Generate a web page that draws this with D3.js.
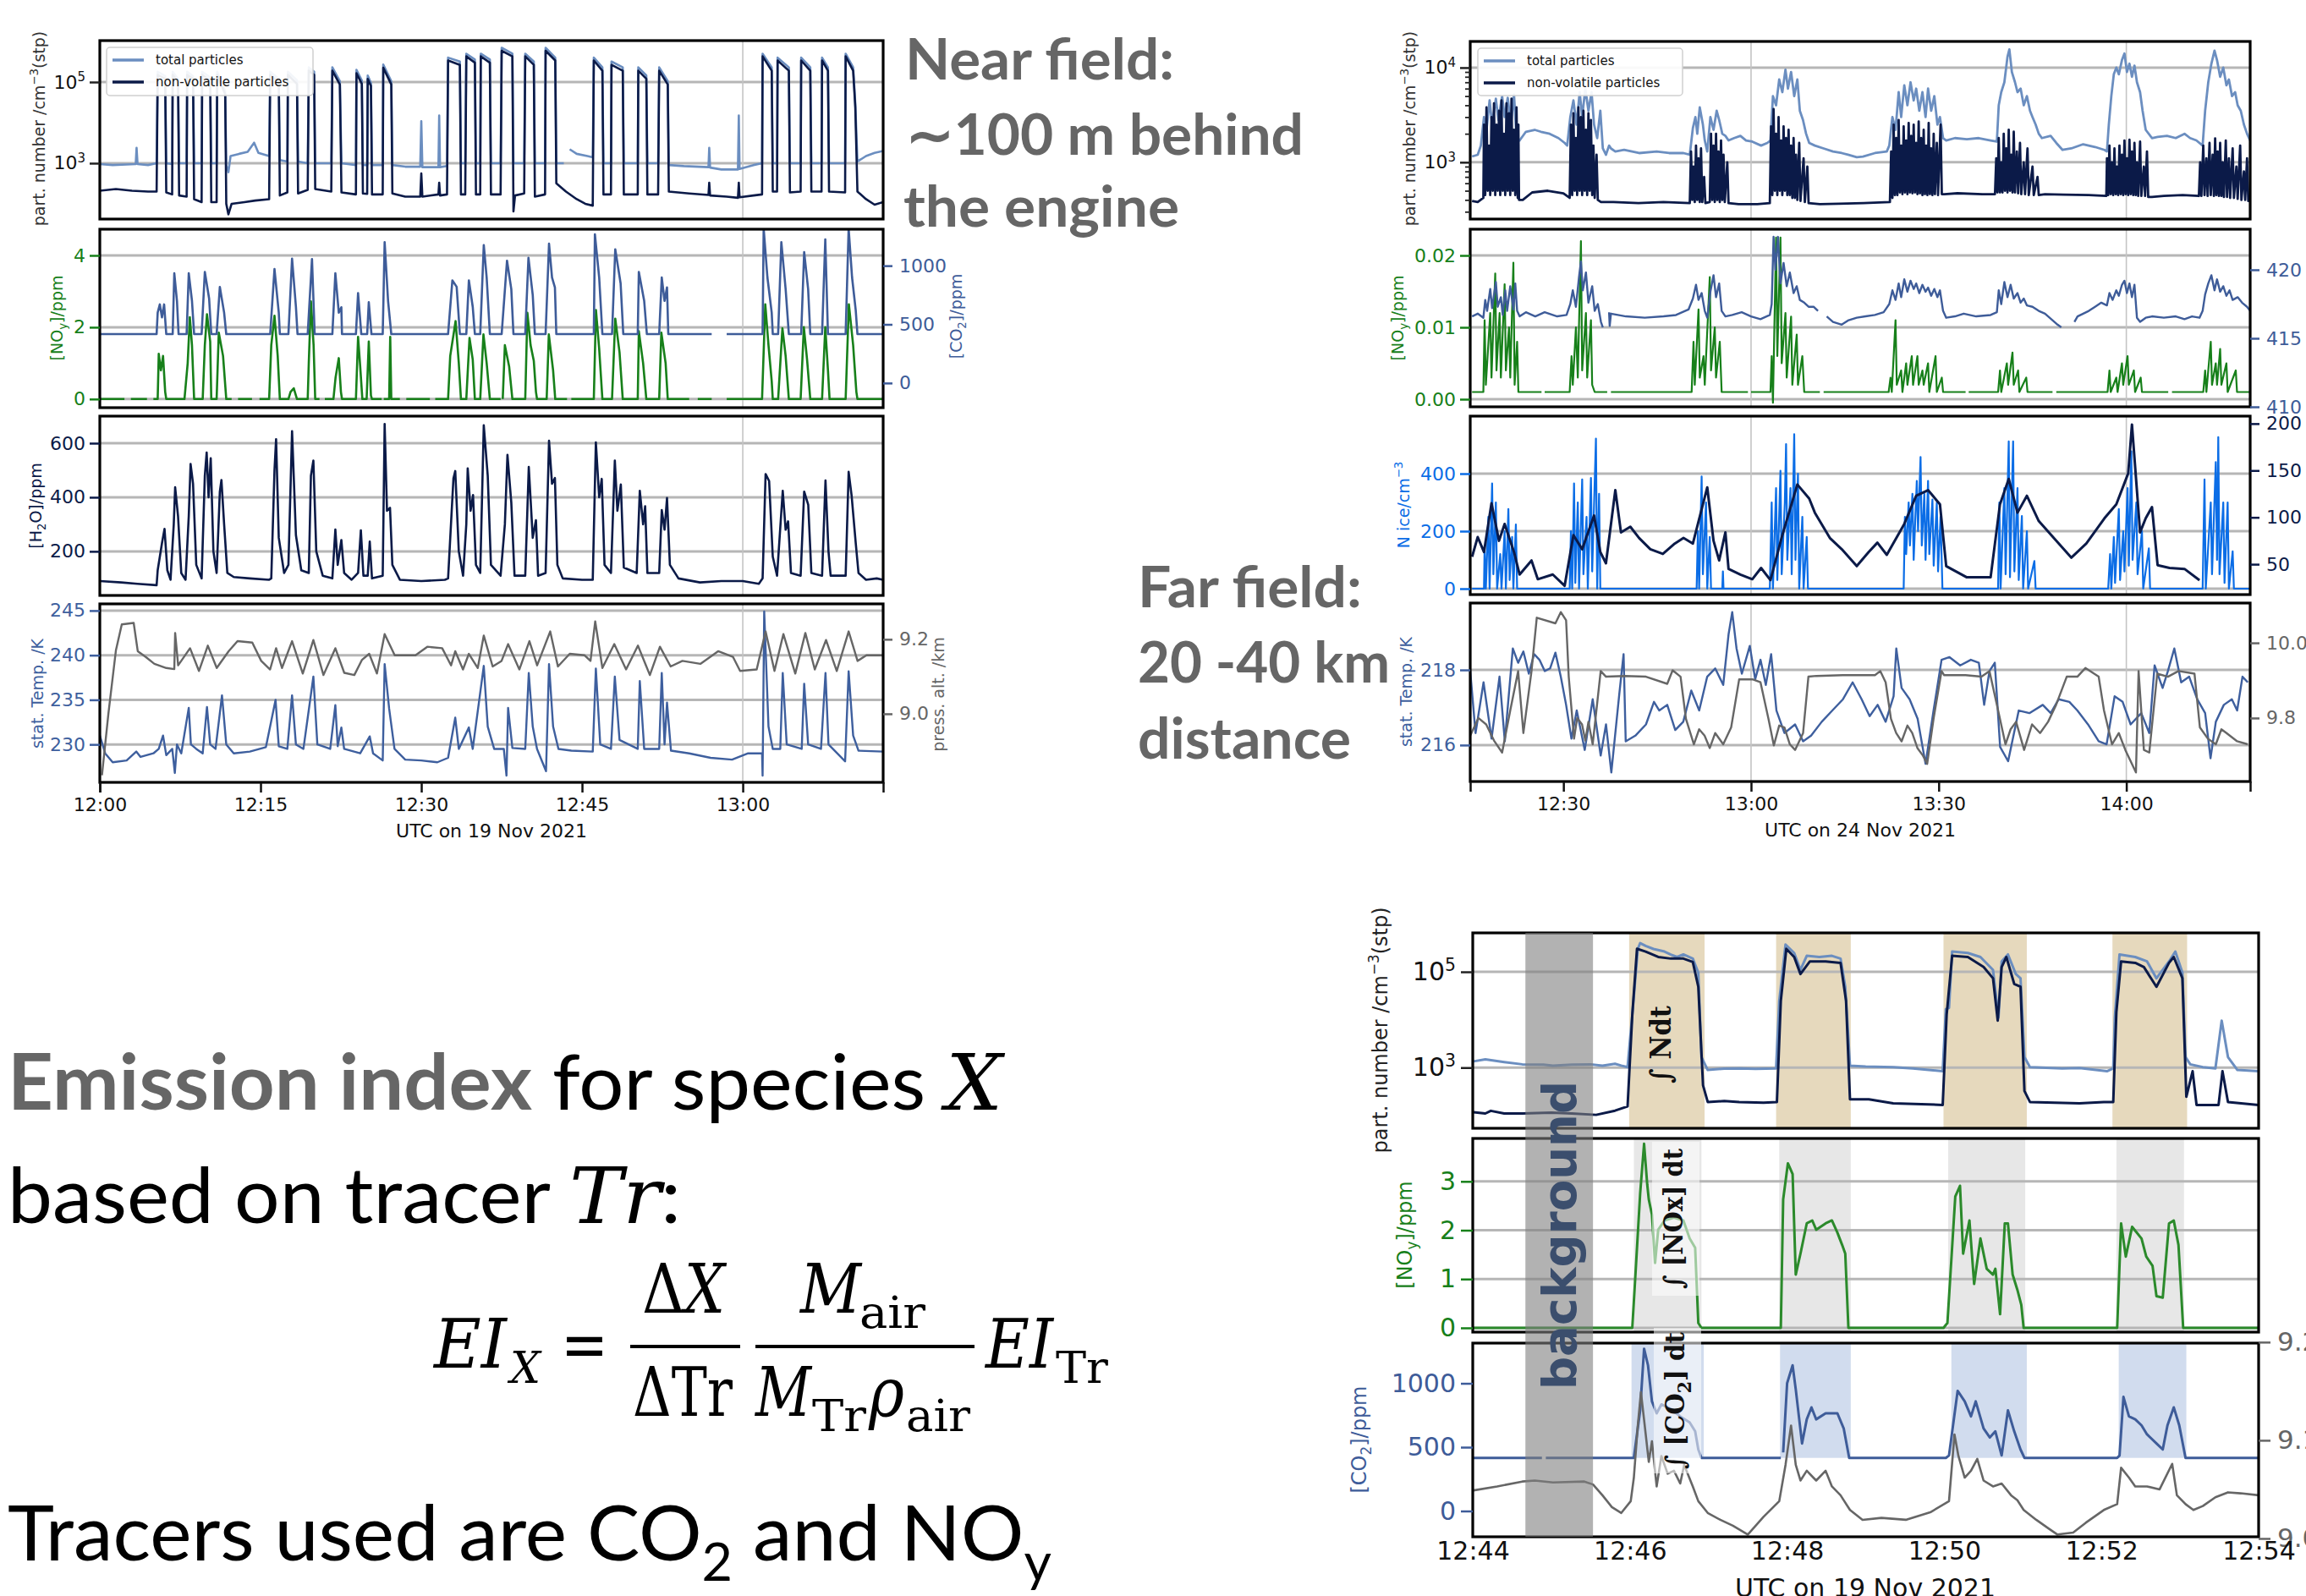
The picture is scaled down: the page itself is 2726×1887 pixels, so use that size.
<!DOCTYPE html>
<html>
<head>
<meta charset="utf-8">
<script src="https://cdn.jsdelivr.net/npm/d3@7"></script>
<style>
  body { margin: 0; background: #fff; }
  svg { display: block; }
</style>
</head>
<body>
<div id="chart"></div>
<script>
// ===== DATA =====
// overview charts: minutes after 12:00 UTC ; zoom chart: minutes after 12:44 UTC

// near field, 19 Nov 2021
const tlTotal = [[0,950],[1.2,900],[2.5,930],[3.35,950],[3.43,2400],[3.52,950],[4.5,900],[5.3,1000],
  [5.4,180000],[6.1,140000],[6.2,1000],[6.75,950],[6.8,180000],[7.3,120000],[7.4,1000],[8.1,1000],
  [8.15,180000],[8.7,140000],[8.8,1000],[9.5,1000],[9.55,180000],[10.3,130000],[10.4,1000],[10.9,1000],
  [10.95,180000],[11.7,60000],[11.8,900],[12.0,600],[12.2,1500],[13.0,1700],[13.8,1900],[14.4,3200],[14.8,1800],[15.8,1500],
  [15.9,180000],[16.7,120000],[16.8,1200],[17.5,1100],[17.55,180000],[18.4,110000],[18.5,1100],[19.4,1000],
  [19.5,230000],[20.0,180000],[20.1,1000],[21.6,1000],[21.7,230000],[22.4,105000],[22.55,1000],[23.9,900],
  [23.95,200000],[24.45,110000],[24.55,900],[24.95,900],[25.0,145000],[25.3,95000],[25.4,900],[26.4,900],
  [26.45,270000],[27.2,105000],[27.3,900],[28.5,820],[29.9,820],[30.0,10800],[30.1,800],[31.6,800],[31.67,15000],[31.75,800],[32.4,850],
  [32.5,400000],[33.6,320000],[33.7,1000],[34.1,1000],[34.2,500000],[35.0,360000],[35.1,1000],[35.5,1000],
  [35.55,500000],[36.4,360000],[36.5,1000],[37.4,1000],[37.5,700000],[38.5,500000],[38.6,1000],[39.6,1000],
  [39.7,500000],[40.5,320000],[40.6,1000],[41.55,1000],[41.6,700000],[42.5,400000],[42.6,1000],[43.3,1000],[43.4,null],
  [43.85,2200],[44.5,1700],[45.5,1500],[46.0,1400],[46.1,400000],[46.9,230000],[47.0,1000],[47.7,1000],
  [47.75,320000],[48.8,230000],[48.9,1000],[50.2,1000],[50.25,230000],[51.0,145000],[51.1,1000],[52.1,1000],
  [52.2,230000],[53.0,105000],[53.1,900],[54.5,850],[56.8,800],[56.87,2400],[56.95,780],[58,700],[59.55,700],[59.63,15000],[59.7,720],[61.0,900],[61.8,1000],
  [61.85,500000],[62.7,230000],[62.8,1000],[63.2,1000],[63.25,400000],[64.3,230000],[64.4,1000],[65.4,1000],
  [65.45,400000],[66.3,230000],[66.4,1000],[67.35,1000],[67.4,400000],[67.95,230000],[68.05,1000],[69.55,1000],
  [69.6,500000],[70.3,230000],[70.5,30000],[70.7,1100],[71.5,1500],[72.3,1800],[73.1,2000]];

const tlNonvol = [[0,210],[1.5,230],[3.0,210],[4.5,200],[5.3,200],
  [5.4,150000],[6.1,120000],[6.2,190],[6.75,170],[6.8,150000],[7.3,100000],[7.4,160],[8.1,150],
  [8.15,150000],[8.7,120000],[8.8,130],[9.5,110],[9.55,150000],[10.3,110000],[10.4,110],[10.9,110],
  [10.95,150000],[11.7,50000],[11.8,100],[12.0,55],[12.3,100],[13.5,110],[14.5,120],[15.8,130],
  [15.9,150000],[16.7,100000],[16.8,160],[17.5,190],[17.55,150000],[18.4,90000],[18.5,180],[19.4,220],
  [19.5,190000],[20.0,150000],[20.1,230],[21.6,200],[21.7,190000],[22.4,87000],[22.55,190],[23.9,170],
  [23.95,165000],[24.45,90000],[24.55,180],[24.95,175],[25.0,120000],[25.3,80000],[25.4,170],[26.4,170],
  [26.45,225000],[27.2,87000],[27.3,180],[28.5,150],[29.9,150],[30.0,560],[30.1,150],[31.6,170],[31.67,330],[31.75,160],[32.4,170],
  [32.5,340000],[33.6,265000],[33.7,170],[34.1,170],[34.2,430000],[35.0,300000],[35.1,170],[35.5,170],
  [35.55,430000],[36.4,300000],[36.5,170],[37.4,170],[37.5,590000],[38.5,430000],[38.6,65],[38.75,160],[39.6,180],
  [39.7,430000],[40.5,265000],[40.6,150],[41.55,170],[41.6,590000],[42.5,340000],[42.6,320],[43.5,200],[44.5,130],[45.3,100],[46.0,90],
  [46.1,340000],[46.9,190000],[47.0,170],[47.7,170],[47.75,265000],[48.8,190000],[48.9,170],[50.2,170],
  [50.25,190000],[51.0,120000],[51.1,170],[52.1,170],[52.2,190000],[53.0,87000],[53.1,200],[55.0,180],
  [56.8,165],[56.87,330],[56.95,160],[58.5,150],[59.55,140],[59.63,330],[59.7,145],[61.0,160],[61.8,170],
  [61.85,430000],[62.7,190000],[62.8,200],[63.2,200],[63.25,340000],[64.3,190000],[64.4,190],[65.4,200],
  [65.45,340000],[66.3,190000],[66.4,200],[67.35,200],[67.4,340000],[67.95,190000],[68.05,200],[69.55,190],
  [69.6,430000],[70.3,190000],[70.5,24000],[70.7,200],[71.5,130],[72.3,95],[73.1,110]];

const tlNoy = [[0,0],[2.3,0],[2.35,null],[2.9,0],[4.4,0],[4.45,null],[5.0,0],[5.4,0],[5.5,1.26],[5.7,0.8],[5.9,1.2],[6.1,0.2],[6.2,0],
  [7.9,0],[8.2,1.0],[8.4,2.28],[8.6,1.5],[8.8,0],[9.6,0],[9.8,1.5],[10.0,2.36],[10.3,1.6],[10.4,0],[10.9,0],[11.1,1.85],[11.5,1.2],[11.8,0],
  [12.3,0],[12.35,null],[12.9,0],[14.2,0],[14.25,null],[14.9,0],[15.8,0],[16.0,1.5],[16.3,2.32],[16.6,1.2],[16.8,0],
  [17.6,0],[17.8,0.2],[18.1,0.3],[18.4,0],[19.4,0],[19.5,1.0],[19.7,2.72],[19.95,1.5],[20.1,0],[20.5,0],[20.55,null],[21.0,0],
  [21.8,0],[22.0,0.6],[22.3,1.14],[22.5,0.2],[22.6,0],[23.9,0],[24.1,1.73],[24.3,0.9],[24.5,0],[24.9,0],[25.1,1.6],[25.3,0.1],[25.4,0],
  [26.3,0],[26.35,null],[26.5,0],[27.0,0],[27.1,1.73],[27.2,0],[28.0,0],[28.05,null],[28.6,0],[30.8,0],[30.85,null],[31.3,0],
  [32.5,0],[32.7,1.2],[33.2,2.17],[33.5,1.0],[33.7,0],[34.2,0],[34.5,1.7],[34.8,1.1],[35.0,0],[35.5,0],[35.8,1.8],[36.1,1.0],[36.4,0],
  [37.4,0],[37.45,null],[37.6,0],[37.8,1.5],[38.2,0.9],[38.5,0],[39.7,0],[39.9,2.4],[40.2,1.5],[40.5,1.06],[40.7,0.2],[40.8,0],
  [41.7,0],[41.9,1.8],[42.3,0.8],[42.5,0],[43.6,0],[43.65,null],[44.0,0],[46.1,0],[46.3,2.48],[46.6,1.4],[46.9,0],
  [47.8,0],[48.1,2.24],[48.5,1.3],[48.8,0],[50.2,0],[50.3,1.89],[50.7,1.0],[51.0,0],[52.2,0],[52.4,1.85],[52.8,1.0],[53.0,0],
  [55.0,0],[55.05,null],[55.8,0],[57.1,0],[57.15,null],[58.5,0],[61.8,0],[62.1,2.64],[62.4,1.5],[62.7,0.5],[62.8,0],
  [63.3,0],[63.7,1.97],[64.0,1.2],[64.3,0],[65.4,0],[65.7,2.0],[66.0,1.1],[66.3,0],[67.4,0],[67.7,2.0],[67.95,0.8],[68.1,0],
  [69.6,0],[69.9,2.64],[70.3,1.5],[70.6,0.2],[70.7,0],[73.1,0]];

const tlCo2 = [[0,417],[5.3,417],[5.4,600],[5.6,670],[5.8,560],[6.0,670],[6.2,417],[6.8,417],[6.95,935],[7.2,700],[7.35,417],
  [8.1,417],[8.3,935],[8.6,700],[8.8,417],[9.5,417],[9.8,947],[10.2,720],[10.4,417],[10.9,417],[11.2,819],[11.6,600],[11.8,417],
  [15.9,417],[16.3,971],[16.7,600],[16.8,417],[17.6,417],[17.94,1060],[18.3,650],[18.45,417],[19.4,417],[19.8,1056],[20.05,417],
  [21.7,417],[21.98,935],[22.3,600],[22.54,646],[22.6,417],[23.9,417],[24.1,766],[24.4,417],[24.95,417],[25.1,689],[25.35,417],
  [26.4,417],[26.58,1200],[26.9,700],[27.2,417],[32.5,417],[32.9,875],[33.3,820],[33.6,417],[34.2,417],[34.44,875],[34.8,650],[35.0,417],
  [35.5,417],[35.83,1176],[36.1,900],[36.4,417],[37.5,417],[38.0,1043],[38.4,800],[38.6,417],[39.7,417],[40.0,1068],[40.4,750],[40.6,417],
  [41.6,417],[41.92,1188],[42.2,900],[42.47,815],[42.6,417],[46.1,417],[46.2,1268],[46.6,900],[46.9,417],[47.8,417],[48.1,1140],[48.6,850],[48.85,417],
  [50.2,417],[50.3,947],[50.8,700],[51.05,417],[52.2,417],[52.44,899],[52.7,700],[52.93,815],[53.05,417],[57.1,417],[57.15,null],[58.5,417],
  [61.85,417],[61.95,1316],[62.3,900],[62.7,600],[62.8,417],[63.3,417],[63.6,1200],[64.0,800],[64.3,417],[65.45,417],[65.73,1116],[66.1,800],[66.3,417],
  [67.4,417],[67.7,1224],[67.95,417],[69.6,417],[69.88,1316],[70.2,900],[70.54,622],[70.7,417],[73.1,417]];

const tlH2o = [[0,90],[2,85],[3.5,80],[5.3,75],[5.4,130],[5.8,230],[6.04,283],[6.3,130],[6.6,95],[6.9,300],[7.03,437],[7.3,330],[7.6,120],
  [8.0,95],[8.3,330],[8.47,523],[8.7,450],[9.0,150],[9.5,100],[9.8,480],[9.97,565],[10.15,400],[10.35,544],[10.6,200],[10.9,120],
  [11.2,420],[11.35,464],[11.6,300],[11.9,120],[12.5,105],[14.0,100],[15.8,95],[16.0,100],[16.3,500],[16.45,615],[16.7,250],[17.2,120],
  [17.6,150],[17.94,644],[18.3,260],[18.8,130],[19.5,120],[19.7,480],[19.93,536],[20.2,200],[20.8,110],[21.7,100],[21.98,281],[22.2,150],
  [22.54,242],[22.8,120],[23.5,95],[24.1,120],[24.36,278],[24.6,110],[25.0,110],[25.19,236],[25.4,100],[26.4,110],[26.58,671],[26.8,350],
  [27.08,361],[27.3,150],[28.0,95],[30,90],[32.2,95],[32.5,100],[33.0,470],[33.17,497],[33.5,200],[33.9,110],[34.2,300],[34.33,507],
  [34.6,350],[34.83,408],[35.1,150],[35.5,120],[35.83,666],[36.2,480],[36.5,150],[37.4,110],[37.8,300],[38.04,557],[38.4,380],[38.7,110],
  [39.7,110],[40.03,512],[40.4,250],[40.7,315],[40.9,110],[41.6,120],[41.92,609],[42.2,450],[42.47,471],[42.7,150],[43.2,100],[45,95],
  [46.0,95],[46.29,603],[46.6,400],[46.84,468],[47.1,150],[47.7,120],[48.06,536],[48.3,350],[48.62,447],[48.9,140],[50.1,120],[50.39,424],
  [50.7,300],[50.89,367],[51.1,120],[52.2,120],[52.44,353],[52.7,280],[52.93,397],[53.2,150],[54,100],[56,85],[58,90],[60,90],[61.5,80],
  [61.85,100],[62.13,486],[62.46,460],[62.8,180],[63.2,110],[63.73,424],[64.0,280],[64.23,311],[64.5,120],[65.4,110],[65.73,421],
  [66.11,372],[66.4,120],[67.4,110],[67.72,462],[68.0,200],[68.2,110],[69.6,110],[69.88,494],[70.16,405],[70.54,231],[70.8,120],
  [71.5,95],[72.5,100],[73.1,95]];

const tlTemp = [[0,231],[0.5,229],[1.2,228],[2.5,228.2],[3.4,229.2],[3.8,228.6],[5.0,229],[5.5,229.5],[5.9,231],[6.2,228.8],[6.76,229.5],
  [7.0,226.8],[7.2,230],[7.6,229],[8.3,234.1],[8.5,230],[9.0,229.5],[9.6,229],[10.0,234.2],[10.3,230],[10.8,229.5],[11.4,235.5],[11.8,230],
  [12.5,229],[14.0,229.2],[15.5,229.7],[16.4,235.0],[16.7,229.8],[17.5,229.5],[17.94,235.5],[18.3,230],[19.0,229.5],[19.93,237.6],[20.3,230],
  [21.5,229.5],[21.98,234.4],[22.2,229.8],[22.54,231.9],[22.8,229.5],[24.3,229],[25.19,230.9],[25.5,229],[26.4,228.2],[26.58,239.0],[27.0,234],
  [27.5,229.5],[28.5,228.3],[30,228.2],[31.5,228],[32.5,228.5],[33.17,233.0],[33.5,229.5],[34.44,231.9],[34.8,229.5],[35.83,238.8],[36.2,232],
  [36.8,229.5],[37.7,229.5],[37.95,226.5],[38.1,234.1],[38.5,229.6],[39.7,229.5],[40.03,238.0],[40.4,232],[40.8,229.5],[41.64,227.0],
  [41.92,239.0],[42.3,232],[42.8,229.5],[44,229.3],[46,229.2],[46.29,238.5],[46.7,230],[47.7,229.5],[48.06,237.6],[48.5,230.5],[50.2,229.5],
  [50.39,237.1],[50.8,229.5],[52.2,229.5],[52.44,238.0],[52.7,230],[52.93,234.7],[53.3,229.3],[55,229],[57,228.5],[59,228.3],[60.5,229],
  [61.8,229],[61.85,226.5],[62.0,244.9],[62.4,232],[62.8,229.5],[63.5,229.5],[63.73,238.0],[64.1,230],[65.5,229.5],[65.73,236.8],[66.1,230],
  [67.3,229.5],[67.72,238.0],[68.0,230],[69.55,228.1],[69.88,238.2],[70.3,231],[70.8,229.3],[73.1,229.2]];

const tlAlt = [[0.2,8.835],[0.8,9.0],[1.5,9.17],[2.05,9.24],[3.16,9.244],[3.54,9.168],[4.26,9.153],[5.09,9.134],[6.2,9.123],[6.95,9.12],
  [7.03,9.217],[7.31,9.13],[8.42,9.176],[9.25,9.115],[10.08,9.183],[10.91,9.123],[12.02,9.168],[12.85,9.195],[14.23,9.191],[15.06,9.142],
  [15.89,9.119],[16.45,9.176],[17.0,9.123],[17.94,9.195],[18.94,9.108],[19.93,9.198],[20.87,9.104],[21.98,9.176],[22.81,9.11],[23.75,9.104],
  [24.47,9.145],[25.14,9.161],[25.86,9.108],[26.58,9.214],[27.52,9.157],[29.46,9.157],[30.56,9.18],[31.95,9.176],[32.78,9.13],[33.17,9.168],
  [33.89,9.119],[34.44,9.161],[35.27,9.123],[35.83,9.21],[36.66,9.127],[37.49,9.142],[38.1,9.187],[39.15,9.119],[40.09,9.195],[40.81,9.13],
  [42.03,9.221],[42.75,9.127],[43.85,9.161],[45.24,9.157],[45.79,9.142],[46.23,9.248],[46.9,9.123],[48.01,9.187],[49.11,9.119],[50.22,9.183],
  [51.33,9.104],[52.27,9.18],[53.27,9.127],[54.37,9.142],[56.04,9.134],[57.7,9.168],[59.08,9.153],[59.75,9.115],[61.3,9.119],[62.13,9.221],
  [62.96,9.115],[63.79,9.214],[64.9,9.108],[65.84,9.217],[66.72,9.119],[67.77,9.198],[68.77,9.115],[69.88,9.221],[70.71,9.142],[71.54,9.157],[73.09,9.157]];

// far field, 24 Nov 2021
const trTotal = [[15.4,1150],[16.3,1200],[16.8,1500],[17.3,3000],[17.7,2200],[18.2,4500],[18.6,2500],[19.2,4700],[19.6,2800],[20.2,5000],
  [20.6,3000],[21.1,4800],[21.6,2500],[22.1,5200],[22.5,1800],[23.0,1700],[24.0,2100],[25.4,2200],[26.4,2100],[27.8,2000],[29.2,1800],
  [30.2,1600],[30.6,1500],[31.1,3000],[31.6,4500],[32.1,2500],[32.6,5500],[33.0,3000],[33.5,6000],[34.0,3500],[34.5,5500],[34.9,2500],
  [35.4,1800],[35.9,3500],[36.3,1400],[36.8,1200],[37.3,1500],[37.6,1400],[38.3,1300],[39.7,1350],[42.1,1250],[44.9,1300],[46.9,1250],
  [49.2,1250],[50.2,1200],[50.7,2300],[51.1,3000],[51.4,2000],[51.8,3800],[52.3,2500],[52.6,1700],[53.0,1300],[53.5,3000],[54.0,2200],
  [54.5,3500],[54.9,2800],[55.4,2000],[55.9,1900],[56.4,1700],[57.3,1800],[58.3,1900],[59.2,1700],[60.2,1650],[61.6,1500],[62.6,1600],
  [63.1,1700],[63.5,5000],[64.0,4000],[64.5,7500],[65.0,5500],[65.5,9500],[65.9,6000],[66.4,9000],[66.9,5000],[67.4,7500],[67.8,3500],
  [68.3,2800],[68.8,2000],[69.3,1600],[70.2,1500],[71.6,1400],[73.1,1300],[74.5,1250],[75.5,1200],[76.9,1130],[77.9,1150],[79.8,1250],
  [81.7,1300],[82.1,1500],[82.6,3000],[83.1,2200],[83.6,5500],[84.0,3000],[84.5,6500],[85.0,4000],[85.5,7000],[86.0,4500],[86.4,6000],
  [86.9,3500],[87.4,5500],[87.9,3000],[88.3,6000],[88.8,3500],[89.3,5000],[89.8,2500],[90.2,3000],[90.7,1800],[91.2,1700],[92.6,1800],
  [94.5,1750],[96.4,1800],[98.3,1700],[99.3,1650],[99.6,4000],[100.0,5500],[100.5,7000],[101.0,13000],[101.3,15600],[101.7,9000],
  [102.2,7000],[102.6,5500],[103.1,6000],[103.6,4000],[104.1,5000],[104.6,3500],[105.0,3000],[105.5,2500],[106.0,2000],[106.5,1800],
  [107.9,1900],[108.8,1600],[109.8,1350],[111.2,1400],[113.1,1550],[115.0,1450],[116.5,1350],[116.9,1300],[117.2,2500],[117.6,5000],
  [118.0,8500],[118.4,10000],[118.8,8500],[119.3,12000],[119.7,14100],[120.1,9000],[120.5,11000],[120.9,8000],[121.3,10500],[121.7,7000],
  [122.2,5500],[122.6,3500],[123.1,2200],[124.1,1800],[125.0,1850],[126.5,1900],[127.9,1800],[129.3,2000],[130.2,1800],[131.2,1700],
  [132.2,1500],[132.6,3500],[133.1,7000],[133.6,11000],[134.1,15100],[134.5,12000],[135.0,8000],[135.5,10000],[136.0,6500],[136.4,7500],
  [136.9,5000],[137.4,5500],[137.8,4000],[138.3,3500],[138.8,2500],[139.3,2000],[139.8,1700]];

const trNonvol = [[15.4,390],[16.3,380],[17.2,420],
  [17.3,2500],[17.5,450],[17.7,3800],[17.9,500],[18.1,1500],[18.3,450],[18.5,3000],[18.7,500],[18.9,4200],[19.1,450],[19.3,2500],
  [19.5,500],[19.7,3500],[19.9,450],[20.1,4500],[20.3,500],[20.5,2000],[20.7,450],[20.9,4200],[21.1,500],[21.3,3300],[21.5,450],
  [21.7,4700],[21.9,500],[22.1,2200],[22.3,450],[22.5,3800],[22.7,420],[22.8,2500],[22.9,400],
  [23.5,400],[25.0,480],[27.5,500],[30.0,470],[31.0,420],
  [31.2,2500],[31.4,450],[31.6,3300],[31.8,500],[32.0,1800],[32.2,450],[32.4,3800],[32.6,500],[32.8,3000],[33.0,450],[33.2,3500],
  [33.4,500],[33.6,2200],[33.8,450],[34.0,3300],[34.2,500],[34.4,2800],[34.6,450],[34.8,1500],[35.0,420],[35.3,1200],[35.5,400],[36.0,380],
  [38,380],[42,370],[46,380],[50.2,370],
  [50.4,1300],[50.6,400],[50.8,900],[51.0,380],[51.2,1500],[51.4,400],[51.6,1100],[51.8,380],[52.0,1400],[52.2,380],[52.5,700],[52.7,370],
  [53.4,380],[53.6,2000],[53.8,400],[54.0,1500],[54.2,380],[54.4,2000],[54.6,400],[54.8,1300],[55.0,380],[55.2,1700],[55.4,400],
  [55.6,1200],[55.8,380],[56.2,1000],[56.4,370],
  [58,360],[61,360],[63.0,370],
  [63.2,2400],[63.4,450],[63.6,3650],[63.8,500],[64.0,2000],[64.2,450],[64.4,3000],[64.6,500],[64.8,1700],[65.0,450],[65.2,2400],
  [65.4,500],[65.6,1800],[65.8,450],[66.0,2200],[66.2,450],[66.4,1500],[66.6,420],[66.8,1800],[67.0,420],[67.2,1200],[67.4,400],
  [67.7,1600],[67.9,390],[68.4,1100],[68.6,380],[69.0,900],[69.2,370],
  [71,360],[74,365],[78,370],[82.2,380],
  [82.4,1300],[82.6,420],[82.8,2500],[83.0,450],[83.2,1800],[83.4,450],[83.6,2800],[83.8,480],[84.0,1500],[84.2,460],[84.4,2400],
  [84.6,480],[84.8,1700],[85.0,460],[85.2,2600],[85.4,480],[85.6,1900],[85.8,470],[86.0,2500],[86.2,480],[86.4,1600],[86.6,460],
  [86.8,2700],[87.0,470],[87.2,1800],[87.4,450],[87.6,2200],[87.8,460],[88.0,1500],[88.2,450],[88.4,2600],[88.6,460],[88.8,1400],
  [89.0,450],[89.2,2000],[89.4,460],[89.7,1600],[89.9,450],[90.3,2500],[90.5,460],[90.9,460],
  [93,470],[97,460],[99.0,460],
  [99.2,1100],[99.4,480],[99.6,1800],[99.8,480],[100.0,1000],[100.2,480],[100.4,2000],[100.6,500],[100.8,1400],[101.0,480],[101.2,2200],
  [101.4,500],[101.6,1200],[101.8,480],[102.0,2100],[102.2,480],[102.5,1300],[102.7,470],[103.0,1600],[103.2,460],[103.6,1000],
  [103.8,460],[104.2,1400],[104.4,450],[105.0,900],[105.2,450],[105.8,700],[106.0,450],[107.0,460],
  [110,455],[114,450],[116.8,440],
  [116.9,1100],[117.1,450],[117.3,1500],[117.5,460],[117.7,1000],[117.9,450],[118.1,1400],[118.3,460],[118.5,900],[118.7,450],
  [118.9,1500],[119.1,460],[119.3,1200],[119.5,450],[119.7,1700],[119.9,460],[120.1,1100],[120.3,450],[120.5,1730],[120.7,460],
  [120.9,1300],[121.1,450],[121.3,1600],[121.5,450],[121.7,1000],[121.9,440],[122.2,1650],[122.4,440],[122.8,900],[123.0,440],
  [123.3,1300],[123.5,430],[124.1,430],
  [126,440],[129,450],[131.6,440],
  [131.8,1000],[132.0,440],[132.3,1500],[132.5,450],[132.8,1100],[133.0,440],[133.3,1600],[133.5,450],[133.8,1200],[134.0,440],
  [134.2,1790],[134.4,450],[134.6,1300],[134.8,440],[135.0,1600],[135.2,440],[135.4,1000],[135.6,430],[135.9,1700],[136.1,430],
  [136.4,1100],[136.6,420],[137.0,1400],[137.2,420],[137.6,900],[137.8,410],[138.2,1500],[138.4,400],[138.8,800],[139.0,400],
  [139.3,1100],[139.5,390],[139.8,400]];

const trNoy = [[15.4,0.001],[17.2,0.001],[17.4,0.011],[17.6,0.002],[18.3,0.012],[18.5,0.003],[19.1,0.0175],[19.3,0.004],[19.8,0.012],
  [20.0,0.003],[20.6,0.016],[20.8,0.004],[21.3,0.01],[21.5,0.003],[22.0,0.019],[22.2,0.002],[22.6,0.008],[22.8,0.001],[26.5,0.001],
  [26.6,null],[27.0,0.001],[31.0,0.001],[31.3,0.006],[31.5,0.002],[32.0,0.01],[32.3,0.003],[32.8,0.022],[33.0,0.004],[33.6,0.012],
  [33.8,0.003],[34.4,0.011],[34.6,0.002],[35.0,0.001],[37.0,0.001],[37.1,null],[37.6,0.001],[50.5,0.001],[50.8,0.008],[51.0,0.002],
  [51.6,0.0125],[51.8,0.003],[52.4,0.006],[52.6,0.002],[53.4,0.017],[53.6,0.004],[54.2,0.01],[54.4,0.003],[55.0,0.008],[55.3,0.001],
  [59.5,0.001],[59.6,null],[60.0,0.001],[63.1,0.001],[63.3,0.006],[63.5,-0.0005],[64.0,0.0225],[64.2,0.006],[64.7,0.0225],[64.9,0.005],
  [65.5,0.012],[65.7,0.003],[66.4,0.0115],[66.6,0.002],[67.3,0.009],[67.5,0.002],[68.2,0.006],[68.5,0.001],[71.0,0.001],[71.1,null],
  [71.6,0.001],[82.0,0.001],[82.3,0.003],[82.5,0.001],[83.1,0.011],[83.3,0.002],[84.0,0.004],[84.2,0.001],[84.8,0.005],[85.0,0.002],
  [85.7,0.006],[85.9,0.002],[86.6,0.006],[86.8,0.002],[87.4,0.004],[87.6,0.002],[88.3,0.005],[88.5,0.001],[89.5,0.006],[89.7,0.001],
  [90.5,0.003],[90.7,0.001],[94.3,0.001],[94.4,null],[94.8,0.001],[99.5,0.001],[99.8,0.004],[100.0,0.001],[100.9,0.005],[101.1,0.002],
  [101.8,0.0065],[102.0,0.002],[102.7,0.004],[102.9,0.001],[104.0,0.003],[104.2,0.001],[108.2,0.001],[108.3,null],[108.8,0.001],
  [117.0,0.001],[117.3,0.004],[117.5,0.001],[118.4,0.003],[118.6,0.001],[119.3,0.005],[119.5,0.002],[120.2,0.006],[120.4,0.002],
  [121.2,0.004],[121.4,0.001],[122.3,0.003],[122.5,0.001],[126.7,0.001],[126.8,null],[127.3,0.001],[132.3,0.001],[132.6,0.004],
  [132.8,0.001],[133.5,0.008],[133.7,0.002],[134.3,0.005],[134.5,0.002],[135.0,0.007],[135.2,0.002],[136.0,0.005],[136.2,0.001],
  [137.5,0.004],[137.7,0.001],[139.8,0.001]];

const trCo2 = [[15.4,416.6],[16.3,416.8],[17.2,416.5],[17.5,417.8],[17.8,417.0],[18.3,418.6],[18.6,417.2],[19.2,419.1],[19.5,417.3],
  [20.0,418.0],[20.3,416.7],[20.7,418.5],[21.0,417],[21.5,418.8],[22.0,417.1],[22.3,419.0],[22.6,417],[23.0,416.6],[24.0,416.9],[25.5,416.6],
  [27.0,416.9],[29.0,416.6],[30.5,416.7],[31.1,417.5],[31.5,418.5],[32.0,417.3],[32.5,419.5],[32.8,420.6],[33.1,418.5],[33.6,419.8],
  [34.0,417.6],[34.6,418.8],[35.0,417.0],[35.5,417.5],[36.0,416.2],[36.3,415.8],[36.4,null],[37.3,416.9],[37.4,415.9],[37.6,416.8],
  [40.0,416.6],[43.0,416.5],[46.0,416.6],[48.0,416.7],[50.0,417.1],[50.7,417.9],[51.2,418.9],[51.6,417.8],[52.1,418.3],[52.6,417.0],
  [53.0,416.5],[53.5,418.4],[54.0,419.6],[54.4,418.0],[54.9,419.0],[55.3,417.0],[55.9,416.6],[57.0,416.7],[58.5,416.9],[60.0,416.6],
  [61.5,416.4],[63.0,416.7],[63.3,417.5],[63.6,422.4],[63.9,420],[64.3,422.4],[64.7,419],[65.2,420.5],[65.7,418.8],[66.2,419.8],
  [66.8,418.3],[67.3,418.8],[67.8,417.8],[68.5,417.6],[69.2,417.3],[70.0,417.3],[70.7,417.0],[71.2,null],[72.1,416.6],[73.1,416.2],
  [74.5,416.0],[75.5,416.3],[76.9,416.5],[78.3,416.6],[79.8,416.7],[81.2,416.9],[82.1,417.5],[82.6,418.5],[83.1,417.8],[83.6,419.0],
  [84.0,418.0],[84.5,419.3],[85.0,418.4],[85.5,419.2],[86.0,418.6],[86.4,419.0],[86.9,418.3],[87.4,418.9],[87.9,418.4],[88.3,418.7],
  [88.8,418.1],[89.3,418.6],[89.8,418.0],[90.2,418.5],[90.7,417.0],[91.2,416.5],[92.6,416.6],[94.0,416.8],[96.0,416.6],[98.3,416.7],
  [99.3,416.9],[99.6,418.5],[100.0,417.5],[100.5,419.1],[101.0,418.0],[101.5,418.9],[102.0,417.9],[102.6,418.3],[103.1,417.6],
  [103.6,417.9],[104.1,417.4],[105.0,417.3],[106.0,417.0],[107.0,416.8],[108.0,416.4],[109.0,416.0],[109.6,415.8],[109.8,null],
  [111.7,416.2],[112.2,416.6],[113.1,416.8],[114.0,417.0],[115.0,417.3],[116.0,417.6],[116.9,417.4],[117.3,418.3],[117.8,417.8],
  [118.4,418.5],[118.8,418.1],[119.3,418.9],[119.7,419.2],[120.1,418.3],[120.5,419.0],[120.9,418.0],[121.3,418.9],[121.7,416.5],
  [122.2,416.2],[123.1,416.5],[124.1,416.6],[126.0,416.5],[127.9,416.6],[129.3,416.4],[130.5,416.6],[131.7,416.5],[132.2,417.0],
  [132.6,418.2],[133.1,419.0],[133.6,419.6],[134.1,418.5],[134.5,419.3],[135.0,418.4],[135.5,418.8],[136.0,418.1],[136.5,418.5],
  [137.0,417.8],[137.8,418.0],[138.5,417.6],[139.3,417.3],[139.8,417.0]];

const trIce = [[15.4,0],[17.3,0],[17.4,150],[17.6,0],[18.0,250],[18.2,0],[18.6,366],[18.8,50],[19.2,300],[19.4,0],[19.9,120],[20.1,0],
  [20.6,200],[20.8,0],[21.2,277],[21.4,30],[21.8,180],[22.0,0],[22.4,223],[22.6,0],[31.0,0],[31.2,200],[31.4,0],[31.7,366],[31.9,20],
  [32.3,300],[32.5,0],[33.0,380],[33.2,50],[33.7,250],[33.9,0],[34.4,385],[34.6,60],[35.2,522],[35.4,0],[35.7,330],[35.9,0],[51.3,0],
  [51.5,200],[51.7,0],[52.1,390],[52.3,50],[52.8,300],[53.0,0],[53.4,180],[53.6,0],[55.4,0],[55.5,60],[55.6,0],[63.0,0],[63.3,300],
  [63.5,0],[64.0,350],[64.2,30],[64.7,410],[64.9,50],[65.4,300],[65.6,503],[65.8,100],[66.3,350],[66.5,50],[66.9,537],[67.1,100],
  [67.5,400],[67.7,0],[68.2,250],[68.4,0],[68.9,180],[69.1,0],[84.4,0],[84.6,250],[84.8,120],[85.2,300],[85.4,150],[85.8,330],[86.0,100],
  [86.5,375],[86.7,200],[87.1,458],[87.3,150],[87.7,330],[87.9,100],[88.3,375],[88.5,120],[89.0,310],[89.2,80],[89.7,300],[89.9,60],
  [90.3,250],[90.6,0],[99.5,0],[99.7,300],[99.9,0],[100.5,350],[100.7,50],[101.2,512],[101.4,40],[101.9,512],[102.1,60],[102.6,350],
  [102.8,30],[103.3,253],[103.5,0],[104.1,200],[104.3,0],[105.3,96],[105.5,0],[117.1,0],[117.4,120],[117.6,0],[118.0,180],[118.2,20],
  [118.8,277],[119.0,30],[119.5,200],[119.7,60],[120.2,350],[120.4,80],[120.8,478],[121.0,100],[121.6,300],[121.8,50],[122.5,200],
  [122.7,0],[123.6,140],[123.8,0],[132.2,0],[132.5,380],[132.7,0],[133.5,300],[133.7,50],[134.3,440],[134.5,100],[134.7,527],[134.9,50],
  [135.5,300],[135.7,20],[136.2,300],[136.4,0],[137.0,130],[137.2,0],[139.8,0]];

const trDark = [[15.4,58],[16.3,79],[17.3,63],[18.5,115],[19.7,75],[20.6,93],[22.1,63],[23.0,39],[24.9,54],[25.9,34],[28.3,39],[30.2,27],
  [31.6,81],[33.0,66],[34.9,102],[35.9,63],[36.8,51],[38.3,129],[39.2,84],[40.7,90],[42.1,78],[43.9,66],[45.9,61],[47.8,72],[49.2,78],
  [50.7,72],[53.0,132],[54.0,75],[54.9,54],[55.9,84],[56.4,45],[58.3,39],[60.2,34],[61.6,46],[63.1,33],[65.0,81],[67.4,135],[69.3,120],
  [70.2,105],[72.6,78],[74.5,66],[76.9,48],[78.8,63],[80.2,73],[81.7,60],[84.5,93],[86.4,123],[88.3,129],[90.2,114],[91.2,48],[94.5,36],
  [98.3,36],[99.8,114],[101.2,141],[102.6,105],[104.1,123],[106.0,96],[108.4,78],[111.2,57],[113.6,72],[116.5,99],[118.4,114],[120.3,147],
  [120.9,199],[122.2,84],[123.1,99],[124.1,111],[125.0,49],[126.9,46],[129.3,45],[131.7,33]];

const trTemp = [[15.1,217.97],[15.95,216.32],[17.23,217.67],[18.51,216.17],[19.78,217.82],[20.63,216.10],[21.91,218.57],[22.76,218.19],
  [23.6,218.49],[24.47,217.90],[25.32,218.42],[26.17,218.27],[27.02,217.97],[27.87,218.04],[28.72,218.46],[29.58,217.82],[30.43,217.07],
  [31.28,216.17],[32.13,216.92],[33.41,215.87],[34.68,217.22],[35.96,215.72],[36.81,216.55],[37.66,215.27],[38.94,217.37],[39.62,218.42],
  [39.96,216.10],[41.5,216.25],[43.2,216.55],[44.48,217.15],[45.33,216.92],[46.6,217.07],[47.88,216.40],[49.16,216.62],[50.44,217.45],
  [51.71,216.92],[52.99,217.82],[54.27,218.04],[55.55,217.60],[56.4,218.94],[56.99,219.54],[57.68,218.57],[58.53,217.90],[59.8,218.64],
  [60.66,217.75],[61.51,218.27],[62.36,217.60],[63.21,218.42],[64.06,216.92],[65.34,216.32],[67.04,216.55],[68.32,216.10],[69.6,216.25],
  [71.3,216.62],[73.0,216.92],[74.7,217.22],[76.24,217.67],[77.68,217.22],[78.96,216.77],[80.24,217.07],[81.52,216.62],[82.79,217.30],
  [83.22,218.57],[84.07,217.52],[85.35,217.22],[86.63,216.70],[87.9,215.50],[89.18,216.92],[90.46,218.27],[91.73,218.34],[93.44,218.12],
  [95.14,218.27],[96.42,218.19],[97.27,217.07],[98.12,217.97],[98.97,218.19],[99.82,215.95],[101.1,215.57],[102.8,216.92],[104.5,216.85],
  [106.64,217.07],[107.91,216.85],[109.19,217.22],[110.89,217.15],[112.17,216.92],[113.87,216.55],[115.58,216.10],[116.85,216.02],
  [118.13,217.30],[119.41,217.15],[120.69,216.55],[122.39,216.85],[123.67,216.32],[124.52,218.12],[125.8,217.52],[126.65,217.97],
  [127.67,218.57],[128.77,217.67],[130.05,217.82],[131.33,217.22],[132.6,216.85],[133.46,215.65],[134.31,216.62],[135.59,217.07],
  [136.87,217.22],[137.72,216.92],[138.57,217.82],[139.42,217.67]];

const trAlt = [[15.1,9.753],[16.4,9.80],[17.65,9.783],[18.9,9.74],[20.2,9.708],[21.5,9.82],[22.76,9.925],[23.6,9.760],[24.9,9.925],
  [25.74,10.067],[28.72,10.052],[29.58,10.082],[30.43,10.060],[30.85,9.910],[31.7,9.745],[32.2,9.80],[32.98,9.783],[33.5,9.74],
  [34.0,9.79],[34.68,9.730],[35.96,9.925],[36.81,9.910],[39.79,9.912],[43.2,9.910],[46.6,9.891],[47.46,9.927],[48.73,9.910],
  [49.59,9.798],[50.86,9.730],[51.7,9.77],[52.57,9.753],[53.4,9.72],[54.27,9.760],[55.55,9.730],[56.82,9.775],[58.1,9.903],[60.23,9.903],
  [61.51,9.895],[62.78,9.798],[63.64,9.727],[64.5,9.78],[65.34,9.775],[66.2,9.73],[67.04,9.715],[68.32,9.760],[69.17,9.910],[70.45,9.912],
  [74.7,9.914],[79.81,9.914],[80.67,9.925],[81.52,9.895],[82.37,9.798],[83.2,9.76],[84.07,9.738],[85.0,9.78],[85.77,9.760],[86.6,9.72],
  [87.48,9.700],[88.16,9.678],[89.18,9.798],[90.46,9.925],[90.88,9.914],[94.29,9.914],[96.84,9.910],[98.12,9.925],[99.4,9.828],
  [100.68,9.730],[101.5,9.77],[102.38,9.790],[103.66,9.715],[104.93,9.783],[106.21,9.760],[107.49,9.790],[108.77,9.835],[110.47,9.910],
  [112.17,9.910],[113.45,9.933],[115.58,9.910],[116.43,9.820],[117.71,9.730],[118.8,9.76],[119.84,9.715],[121.54,9.655],[121.96,9.925],
  [122.81,9.715],[123.67,9.708],[124.94,9.918],[126.65,9.910],[128.35,9.925],[130.9,9.918],[131.76,9.775],[133.04,9.745],[134.31,9.730],
  [135.2,9.77],[136.02,9.760],[137.72,9.738],[139.42,9.730]];

// zoom on four plume crossings, 19 Nov 2021 (minutes after 12:44)
const brTotal = [[0.01,1350],[0.16,1480],[0.4,1300],[0.63,1170],[0.9,1150],[1.02,1100],[1.26,1150],[1.5,1170],[1.65,1100],[1.81,1200],
  [1.89,1100],[1.97,1020],[2.03,12600],[2.10,300000],[2.13,398000],[2.2,347000],[2.3,300000],[2.44,265000],[2.52,230000],[2.60,204000],
  [2.68,231000],[2.80,189000],[2.87,96000],[2.91,1660],[2.99,890],[3.2,950],[3.39,960],[3.6,940],[3.86,960],[3.90,24800],[3.98,372000],
  [4.09,247000],[4.17,110000],[4.25,216000],[4.41,204000],[4.57,216000],[4.68,189000],[4.74,48700],[4.80,1100],[5.0,1050],[5.35,1020],
  [5.6,960],[5.98,840],[6.02,16600],[6.06,17700],[6.10,265000],[6.30,247000],[6.46,204000],[6.62,110000],[6.69,11000],[6.73,165000],
  [6.81,231000],[6.91,90000],[6.97,73300],[7.02,1660],[7.09,1020],[7.5,960],[7.72,980],[8.07,840],[8.15,960],[8.17,11000],[8.23,231000],
  [8.43,204000],[8.58,165000],[8.70,73300],[8.86,165000],[8.94,265000],[9.03,96000],[9.07,1660],[9.13,1170],[9.29,1020],[9.45,960],
  [9.53,9590],[9.61,1660],[9.73,890],[10.0,840]];

const brNonvol = [[0.01,117],[0.16,110],[0.23,125],[0.4,110],[0.63,110],[1.0,115],[1.26,110],[1.57,103],[1.81,126],[1.97,155],
  [2.03,12600],[2.09,303000],[2.2,265000],[2.36,204000],[2.52,189000],[2.68,189000],[2.80,161000],[2.87,48700],[2.93,428],[2.99,191],
  [3.2,200],[3.39,191],[3.7,185],[3.87,191],[3.92,24800],[3.99,303000],[4.09,204000],[4.17,90000],[4.29,165000],[4.49,165000],
  [4.68,154000],[4.75,24800],[4.80,217],[5.04,217],[5.35,179],[5.98,166],[6.03,12600],[6.10,216000],[6.30,204000],[6.50,126000],
  [6.62,73300],[6.68,9590],[6.73,126000],[6.79,204000],[6.89,56000],[6.97,48700],[7.02,324],[7.09,191],[7.72,179],[8.03,191],[8.15,191],
  [8.19,14400],[8.25,165000],[8.43,154000],[8.54,126000],[8.70,48700],[8.86,154000],[8.92,204000],[9.03,73300],[9.08,245],[9.16,840],
  [9.21,166],[9.49,166],[9.54,840],[9.61,191],[10.0,166]];

const brNoy = [[0,0],[2.03,0],[2.07,1.09],[2.13,2.75],[2.18,3.77],[2.22,2.94],[2.24,2.63],[2.28,2.32],[2.32,1.33],[2.36,2.01],[2.44,2.20],
  [2.56,2.26],[2.68,2.20],[2.76,1.83],[2.83,1.64],[2.87,0.1],[2.91,0],[3.92,0],[3.95,2.63],[4.01,3.37],[4.07,3.15],[4.11,1.09],[4.17,1.52],
  [4.25,2.14],[4.32,2.20],[4.37,2.01],[4.49,2.14],[4.57,2.20],[4.64,1.95],[4.70,1.70],[4.74,1.52],[4.78,0],[5.99,0],[6.04,0.1],[6.14,2.69],
  [6.20,2.91],[6.24,1.52],[6.32,2.20],[6.38,0.9],[6.46,1.83],[6.54,1.21],[6.62,1.09],[6.65,1.21],[6.71,0.28],[6.77,2.14],[6.81,2.14],
  [6.87,1.09],[6.93,0.78],[6.98,0.47],[7.01,0],[8.20,0],[8.25,2.14],[8.31,1.46],[8.39,2.07],[8.51,1.83],[8.57,1.46],[8.65,1.27],[8.70,0.65],
  [8.78,0.62],[8.86,2.14],[8.92,2.20],[8.98,1.70],[9.04,0],[10.0,0]];

const brCo2 = [[0,416],[0.88,416],[0.9,null],[0.93,416],[2.05,416],[2.13,788],[2.18,1271],[2.23,1141],[2.28,859],[2.34,765],[2.40,835],
  [2.52,800],[2.64,741],[2.76,694],[2.83,624],[2.87,482],[2.91,416],[3.92,416],[3.93,null],[3.95,459],[4.00,1000],[4.07,1141],[4.11,953],
  [4.19,529],[4.25,718],[4.31,812],[4.37,718],[4.49,765],[4.64,765],[4.72,647],[4.79,416],[6.02,416],[6.06,435],[6.17,941],[6.26,859],
  [6.34,741],[6.40,859],[6.50,647],[6.58,576],[6.65,624],[6.73,435],[6.81,788],[6.89,624],[6.97,482],[7.02,416],[8.20,416],[8.23,435],
  [8.28,894],[8.35,741],[8.43,718],[8.51,671],[8.58,600],[8.70,529],[8.78,482],[8.84,671],[8.92,812],[8.99,671],[9.07,416],[10.0,416]];

const brAlt = [[0.01,9.049],[0.31,9.053],[0.63,9.058],[0.79,9.059],[1.02,9.057],[1.42,9.058],[1.53,9.055],[1.65,9.044],[1.77,9.032],
  [1.89,9.026],[2.01,9.038],[2.05,9.062],[2.10,9.115],[2.14,9.149],[2.18,9.121],[2.24,9.078],[2.28,9.099],[2.34,9.053],[2.40,9.084],
  [2.48,9.066],[2.56,9.069],[2.64,9.056],[2.69,9.075],[2.80,9.053],[2.87,9.038],[2.99,9.026],[3.15,9.019],[3.31,9.013],[3.50,9.004],
  [3.70,9.022],[3.90,9.038],[3.98,9.075],[4.05,9.115],[4.11,9.075],[4.17,9.059],[4.25,9.069],[4.37,9.059],[4.49,9.069],[4.57,9.053],
  [4.68,9.044],[4.80,9.029],[4.96,9.019],[5.20,9.021],[5.51,9.019],[5.83,9.027],[6.06,9.038],[6.13,9.106],[6.18,9.084],[6.26,9.062],
  [6.34,9.069],[6.42,9.081],[6.50,9.059],[6.62,9.053],[6.73,9.056],[6.85,9.044],[6.93,9.039],[7.01,9.029],[7.17,9.019],[7.33,9.010],
  [7.44,9.004],[7.64,9.006],[7.80,9.016],[8.03,9.029],[8.20,9.035],[8.25,9.072],[8.35,9.062],[8.43,9.053],[8.58,9.053],[8.74,9.050],
  [8.90,9.076],[8.96,9.044],[9.07,9.035],[9.17,9.029],[9.29,9.033],[9.45,9.042],[9.61,9.047],[9.77,9.046],[10.0,9.044]];

const brBackground = [0.67, 1.53];
const brParticleSpans = [[1.99, 2.95], [3.86, 4.81], [5.99, 7.05], [8.14, 9.09]];
const brNoySpans = [[2.05, 2.91], [3.90, 4.81], [6.05, 7.03], [8.19, 9.05]];
const brCo2Spans = [[2.02, 2.94], [3.91, 4.81], [6.09, 7.05], [8.22, 9.08]];
const brCo2Base = 416;

// ticks
const tlTimeTicks = [0, 15, 30, 45, 60];
const trTimeTicks = [30, 60, 90, 120];
const brTimeTicks = [0, 2, 4, 6, 8, 10];
const tlPartTicks = [1e3, 1e5], tlNoyTicks = [0, 2, 4], tlCo2Ticks = [0, 500, 1000];
const tlH2oTicks = [200, 400, 600], tlTempTicks = [230, 235, 240, 245], tlAltTicks = [9.0, 9.2];
const trPartTicks = [1e3, 1e4];
const trPartMinor = [300, 400, 500, 600, 700, 800, 900, 2000, 3000, 4000, 5000, 6000, 7000, 8000, 9000];
const trNoyTicks = [0, 0.01, 0.02], trCo2Ticks = [410, 415, 420];
const trIceTicks = [0, 200, 400], trDarkTicks = [50, 100, 150, 200];
const trTempTicks = [216, 218], trAltTicks = [9.8, 10.0];
const brPartTicks = [1e3, 1e5], brNoyTicks = [0, 1, 2, 3], brCo2Ticks = [0, 500, 1000], brAltTicks = [9.0, 9.1, 9.2];

// ===== COLOURS / FONTS =====
const C = {
  light: '#6b8ec0', navy: '#0b1a48', green: '#17801a', greenBr: '#2b8a2b', co2: '#3e5c99',
  temp: '#3e5f9e', gray: '#666666', ice: '#0b6de6', text: '#666666'
};
const FONT = "'DejaVu Sans', sans-serif";
const SERIF = "'DejaVu Serif', 'Liberation Serif', serif";
const BIG = "Lato, 'Open Sans', sans-serif";
const intFmt = d3.format('d');

const W = 2726, H = 1887;
const svg = d3.select('#chart').append('svg').attr('width', W).attr('height', H);
svg.append('rect').attr('width', W).attr('height', H).attr('fill', '#fff');
const defs = svg.append('defs');

// ===== HELPERS =====
const base19 = Date.UTC(2021, 10, 19, 12, 0);
const base24 = Date.UTC(2021, 10, 24, 12, 0);
const base19z = Date.UTC(2021, 10, 19, 12, 44);
const toDate = (b, m) => new Date(b + m * 60000);

let nClip = 0;
function panel(x0, x1, y0, y1) {
  const id = 'clip' + nClip++;
  defs.append('clipPath').attr('id', id).append('rect')
    .attr('x', x0).attr('y', y0).attr('width', x1 - x0).attr('height', y1 - y0);
  const g = svg.append('g');
  return {
    x0, x1, y0, y1, g,
    back: g.append('g').attr('clip-path', `url(#${id})`),
    plot: g.append('g').attr('clip-path', `url(#${id})`),
    axes: g.append('g')
  };
}
function hGrid(p, y, vals) {
  p.back.selectAll(null).data(vals).enter().append('line')
    .attr('x1', p.x0).attr('x2', p.x1).attr('y1', d => y(d)).attr('y2', d => y(d))
    .attr('stroke', '#b6b6b6').attr('stroke-width', 3);
}
function vGrid(p, xAt, vals) {
  p.back.selectAll(null).data(vals).enter().append('line')
    .attr('x1', d => xAt(d)).attr('x2', d => xAt(d)).attr('y1', p.y0).attr('y2', p.y1)
    .attr('stroke', '#c4c4c4').attr('stroke-width', 1.6);
}
function series(p, xAt, y, data, color, w) {
  const line = d3.line().defined(d => d[1] !== null).x(d => xAt(d[0])).y(d => y(d[1]));
  p.plot.append('path').datum(data).attr('d', line).attr('fill', 'none')
    .attr('stroke', color).attr('stroke-width', w).attr('stroke-linejoin', 'round');
}
function frame(p) {
  p.axes.append('rect').attr('x', p.x0).attr('y', p.y0).attr('width', p.x1 - p.x0).attr('height', p.y1 - p.y0)
    .attr('fill', 'none').attr('stroke', '#000').attr('stroke-width', 3.2);
}
function yAxis(p, scale, side, ticks, o = {}) {
  const gen = (side === 'left' ? d3.axisLeft(scale) : d3.axisRight(scale))
    .tickValues(ticks).tickSize(o.size || 12).tickPadding(o.pad || 5);
  if (o.fmt) gen.tickFormat(o.fmt);
  const g = p.axes.append('g').attr('transform', `translate(${side === 'left' ? p.x0 : p.x1},0)`).call(gen);
  g.attr('font-family', FONT).attr('font-size', o.fs || 22);
  g.select('.domain').remove();
  g.selectAll('.tick line').attr('stroke', o.tick || '#222').attr('stroke-width', o.tw || 2.5);
  g.selectAll('.tick text').attr('fill', o.color || '#000');
  return g;
}
function powLabels(g) {
  g.selectAll('.tick text').each(function (d) {
    const t = d3.select(this);
    t.text('10');
    t.append('tspan').attr('dy', '-0.55em').attr('font-size', '0.68em').text(Math.round(Math.log10(d)));
  });
}
function xAxis(p, scale, ticks, o) {
  const g = p.axes.append('g').attr('transform', `translate(0,${p.y1})`)
    .call(d3.axisBottom(scale).tickValues(ticks).tickFormat(d3.utcFormat('%H:%M')).tickSize(o.size).tickPadding(o.pad));
  g.attr('font-family', FONT).attr('font-size', o.fs);
  g.select('.domain').remove();
  g.selectAll('.tick line').attr('stroke', '#111').attr('stroke-width', 2.5);
  g.selectAll('.tick text').attr('fill', '#111');
  if (o.edges) {
    const e = p.axes.append('g').attr('transform', `translate(0,${p.y1})`)
      .call(d3.axisBottom(scale).tickValues(scale.domain()).tickFormat('').tickSize(o.size));
    e.select('.domain').remove();
    e.selectAll('.tick line').attr('stroke', '#111').attr('stroke-width', 2.5);
  }
}
function yLabel(x, y, parts, color, fs) {
  const t = svg.append('text').attr('transform', `translate(${x + 0.36 * fs},${y}) rotate(-90)`)
    .attr('text-anchor', 'middle').attr('font-family', FONT).attr('font-size', fs).attr('fill', color);
  let shift = 0;
  parts.forEach(p => {
    const [s, kind] = Array.isArray(p) ? p : [p, ''];
    const target = kind === 'sub' ? 0.28 * fs : kind === 'sup' ? -0.42 * fs : 0;
    const sp = t.append('tspan').attr('dy', target - shift).text(s);
    if (kind) sp.attr('font-size', fs * 0.7);
    shift = target;
  });
}
function xLabel(x, y, s, fs) {
  svg.append('text').attr('x', x).attr('y', y).attr('text-anchor', 'middle').attr('dominant-baseline', 'central')
    .attr('font-family', FONT).attr('font-size', fs).attr('fill', '#111').text(s);
}
function legend(x, y, w, h) {
  const g = svg.append('g');
  g.append('rect').attr('x', x).attr('y', y).attr('width', w).attr('height', h).attr('rx', 4)
    .attr('fill', '#fff').attr('fill-opacity', 0.92).attr('stroke', '#cfcfcf').attr('stroke-width', 1.5);
  [['total particles', C.light], ['non-volatile particles', C.navy]].forEach(([s, c], i) => {
    const yy = y + 15 + i * 26;
    g.append('line').attr('x1', x + 7).attr('x2', x + 44).attr('y1', yy).attr('y2', yy).attr('stroke', c).attr('stroke-width', 3.5);
    g.append('text').attr('x', x + 58).attr('y', yy).attr('dominant-baseline', 'central')
      .attr('font-family', FONT).attr('font-size', 15).attr('fill', '#111').text(s);
  });
}

// ===== NEAR FIELD (top left) =====
const tlX = d3.scaleUtc().domain([toDate(base19, 0), toDate(base19, 73.1)]).range([118, 1044]);
const tlAt = m => tlX(toDate(base19, m));
const tl13 = [60];

const tl1 = panel(118, 1044, 48, 259);
const tl1Y = d3.scaleLog().domain([42, 1.05e6]).range([259, 48]);
hGrid(tl1, tl1Y, tlPartTicks); vGrid(tl1, tlAt, tl13);
series(tl1, tlAt, tl1Y, tlTotal, C.light, 2.6);
series(tl1, tlAt, tl1Y, tlNonvol, C.navy, 2.6);
frame(tl1);
powLabels(yAxis(tl1, tl1Y, 'left', tlPartTicks, { color: '#111' }));
legend(126, 56, 244, 57);
yLabel(46, 152, ['part. number /cm', ['\u22123', 'sup'], '(stp)'], '#333', 19);

const tl2 = panel(118, 1044, 271, 482);
const tl2Y = d3.scaleLinear().domain([-0.24, 4.73]).range([482, 271]);
const tl2Y2 = d3.scaleLinear().domain([-210, 1311]).range([482, 271]);
hGrid(tl2, tl2Y, tlNoyTicks); vGrid(tl2, tlAt, tl13);
series(tl2, tlAt, tl2Y, tlNoy, C.green, 2.6);
series(tl2, tlAt, tl2Y2, tlCo2, C.co2, 2.6);
frame(tl2);
yAxis(tl2, tl2Y, 'left', tlNoyTicks, { color: C.green, tick: C.green, fmt: intFmt });
yAxis(tl2, tl2Y2, 'right', tlCo2Ticks, { color: C.co2, tick: C.co2, size: 11, pad: 8, fmt: intFmt });
yLabel(67, 376, ['[NO', ['y', 'sub'], ']/ppm'], C.green, 19);
yLabel(1130, 374, ['[CO', ['2', 'sub'], ']/ppm'], C.co2, 19);

const tl3 = panel(118, 1044, 492, 704);
const tl3Y = d3.scaleLinear().domain([37, 700]).range([704, 492]);
hGrid(tl3, tl3Y, tlH2oTicks); vGrid(tl3, tlAt, tl13);
series(tl3, tlAt, tl3Y, tlH2o, C.navy, 2.6);
frame(tl3);
yAxis(tl3, tl3Y, 'left', tlH2oTicks, { color: C.navy, tick: C.navy, fmt: intFmt });
yLabel(42, 598, ['[H', ['2', 'sub'], 'O]/ppm'], C.navy, 19);

const tl4 = panel(118, 1044, 714, 925);
const tl4Y = d3.scaleLinear().domain([225.75, 245.75]).range([925, 714]);
const tl4Y2 = d3.scaleLinear().domain([8.816, 9.295]).range([925, 714]);
hGrid(tl4, tl4Y, tlTempTicks); vGrid(tl4, tlAt, tl13);
series(tl4, tlAt, tl4Y, tlTemp, C.temp, 2.4);
series(tl4, tlAt, tl4Y2, tlAlt, C.gray, 2.4);
frame(tl4);
yAxis(tl4, tl4Y, 'left', tlTempTicks, { color: C.temp, tick: C.temp, fmt: intFmt });
yAxis(tl4, tl4Y2, 'right', tlAltTicks, { color: C.gray, tick: C.gray, size: 11, pad: 8, fmt: d3.format('.1f') });
yLabel(44, 820, ['stat. Temp. /K'], C.temp, 19);
yLabel(1109, 821, ['press. alt. /km'], C.gray, 19);
xAxis(tl4, tlX, tlTimeTicks.map(m => toDate(base19, m)), { size: 12, pad: 6, fs: 22, edges: true });
xLabel(581, 982, 'UTC on 19 Nov 2021', 22);

// ===== FAR FIELD (top right) =====
const trX = d3.scaleUtc().domain([toDate(base24, 15.1), toDate(base24, 139.8)]).range([1738, 2660]);
const trAt = m => trX(toDate(base24, m));
const trHours = [60, 120];

const tr1 = panel(1738, 2660, 49, 259);
const tr1Y = d3.scaleLog().domain([251, 18900]).range([259, 49]);
hGrid(tr1, tr1Y, trPartTicks); vGrid(tr1, trAt, trHours);
series(tr1, trAt, tr1Y, trTotal, C.light, 2.8);
series(tr1, trAt, tr1Y, trNonvol, C.navy, 2.8);
frame(tr1);
powLabels(yAxis(tr1, tr1Y, 'left', trPartTicks, { color: '#111' }));
yAxis(tr1, tr1Y, 'left', trPartMinor, { size: 6, fmt: () => '', tw: 1.8 });
legend(1747, 57, 242, 56);
yLabel(1666, 152, ['part. number /cm', ['\u22123', 'sup'], '(stp)'], '#333', 19);

const tr2 = panel(1738, 2660, 271, 481);
const tr2Y = d3.scaleLinear().domain([-0.00106, 0.02365]).range([481, 271]);
const tr2Y2 = d3.scaleLinear().domain([410, 422.96]).range([481, 271]);
hGrid(tr2, tr2Y, trNoyTicks); vGrid(tr2, trAt, trHours);
series(tr2, trAt, tr2Y, trNoy, C.green, 2.2);
series(tr2, trAt, tr2Y2, trCo2, C.co2, 2.4);
frame(tr2);
yAxis(tr2, tr2Y, 'left', trNoyTicks, { color: C.green, tick: C.green, fmt: d3.format('.2f') });
yAxis(tr2, tr2Y2, 'right', trCo2Ticks, { color: C.co2, tick: C.co2, size: 11, pad: 8, fmt: intFmt });
yLabel(1652, 376, ['[NO', ['y', 'sub'], ']/ppm'], C.green, 19);

const tr3 = panel(1738, 2660, 492, 703);
const tr3Y = d3.scaleLinear().domain([-20.6, 600]).range([703, 492]);
const tr3Y2 = d3.scaleLinear().domain([17.6, 208]).range([703, 492]);
hGrid(tr3, tr3Y, trIceTicks); vGrid(tr3, trAt, trHours);
series(tr3, trAt, tr3Y, trIce, C.ice, 2.2);
series(tr3, trAt, tr3Y2, trDark, C.navy, 3);
frame(tr3);
yAxis(tr3, tr3Y, 'left', trIceTicks, { color: C.ice, tick: C.ice, fmt: intFmt });
yAxis(tr3, tr3Y2, 'right', trDarkTicks, { color: C.navy, tick: C.navy, size: 11, pad: 8, fmt: intFmt });
yLabel(1659, 597, ['N ice/cm', ['\u22123', 'sup']], C.ice, 19);

const tr4 = panel(1738, 2660, 713, 924);
const tr4Y = d3.scaleLinear().domain([215.03, 219.78]).range([924, 713]);
const tr4Y2 = d3.scaleLinear().domain([9.631, 10.106]).range([924, 713]);
hGrid(tr4, tr4Y, trTempTicks); vGrid(tr4, trAt, trHours);
series(tr4, trAt, tr4Y, trTemp, C.temp, 2.4);
series(tr4, trAt, tr4Y2, trAlt, C.gray, 2.4);
frame(tr4);
yAxis(tr4, tr4Y, 'left', trTempTicks, { color: C.temp, tick: C.temp, fmt: intFmt });
yAxis(tr4, tr4Y2, 'right', trAltTicks, { color: C.gray, tick: C.gray, size: 11, pad: 8, fmt: d3.format('.1f') });
yLabel(1662, 818, ['stat. Temp. /K'], C.temp, 19);
xAxis(tr4, trX, trTimeTicks.map(m => toDate(base24, m)), { size: 12, pad: 6, fs: 22, edges: true });
xLabel(2199, 981, 'UTC on 24 Nov 2021', 22);

// ===== ZOOM (bottom right) =====
const brX = d3.scaleUtc().domain([toDate(base19z, 0), toDate(base19z, 10)]).range([1741, 2670]);
const brAt = m => brX(toDate(base19z, m));

const br1 = panel(1741, 2670, 1103, 1334);
const br1Y = d3.scaleLog().domain([54, 6.5e5]).range([1334, 1103]);
br1.back.selectAll(null).data(brParticleSpans).enter().append('rect')
  .attr('x', d => brAt(d[0])).attr('width', d => brAt(d[1]) - brAt(d[0]))
  .attr('y', br1.y0).attr('height', br1.y1 - br1.y0).attr('fill', '#e6d9bd');
hGrid(br1, br1Y, brPartTicks);
series(br1, brAt, br1Y, brTotal, C.light, 3);
series(br1, brAt, br1Y, brNonvol, C.navy, 3);
frame(br1);
powLabels(yAxis(br1, br1Y, 'left', brPartTicks, { color: '#111', fs: 30, size: 14, pad: 6 }));
yLabel(1631, 1218, ['part. number /cm', ['\u22123', 'sup'], '(stp)'], '#222', 24);

const br2 = panel(1741, 2670, 1346, 1575);
const br2Y = d3.scaleLinear().domain([-0.087, 3.88]).range([1575, 1346]);
br2.back.selectAll(null).data(brNoySpans).enter().append('rect')
  .attr('x', d => brAt(d[0])).attr('width', d => brAt(d[1]) - brAt(d[0]))
  .attr('y', br2.y0).attr('height', br2.y1 - br2.y0).attr('fill', '#e7e7e7');
hGrid(br2, br2Y, brNoyTicks);
series(br2, brAt, br2Y, brNoy, C.greenBr, 3);
frame(br2);
yAxis(br2, br2Y, 'left', brNoyTicks, { color: C.green, tick: C.green, fs: 30, size: 14, pad: 6, fmt: intFmt });
yLabel(1660, 1460, ['[NO', ['y', 'sub'], ']/ppm'], C.green, 24);

const br3 = panel(1741, 2670, 1588, 1817);
const br3Y = d3.scaleLinear().domain([-202, 1315]).range([1817, 1588]);
const br3Y2 = d3.scaleLinear().domain([9.0017, 9.199]).range([1817, 1588]);
br3.back.selectAll(null).data(brCo2Spans).enter().append('rect')
  .attr('x', d => brAt(d[0])).attr('width', d => brAt(d[1]) - brAt(d[0]))
  .attr('y', br3.y0).attr('height', br3Y(brCo2Base) - br3.y0).attr('fill', '#d1dcee');
series(br3, brAt, br3Y, brCo2, C.co2, 3);
series(br3, brAt, br3Y2, brAlt, C.gray, 2.6);
frame(br3);
yAxis(br3, br3Y, 'left', brCo2Ticks, { color: C.co2, tick: C.co2, fs: 30, size: 14, pad: 6, fmt: intFmt });
yAxis(br3, br3Y2, 'right', brAltTicks, { color: C.gray, tick: C.gray, fs: 31, size: 14, pad: 8, fmt: d3.format('.1f') });
yLabel(1606, 1702, ['[CO', ['2', 'sub'], ']/ppm'], C.co2, 24);
xAxis(br3, brX, brTimeTicks.map(m => toDate(base19z, m)), { size: 0, pad: 6, fs: 30 });
xLabel(2205, 1877, 'UTC on 19 Nov 2021', 30);

// background band over the three zoom panels
svg.append('rect').attr('x', brAt(brBackground[0])).attr('width', brAt(brBackground[1]) - brAt(brBackground[0]))
  .attr('y', 1103).attr('height', 1817 - 1103).attr('fill', '#7f7f7f').attr('opacity', 0.6);
svg.append('text').attr('transform', `translate(${brAt((brBackground[0] + brBackground[1]) / 2) + 20},1643) rotate(-90)`)
  .attr('font-family', FONT).attr('font-weight', 700).attr('font-size', 55).attr('fill', '#3b4e6d')
  .attr('textLength', 365).attr('lengthAdjust', 'spacingAndGlyphs').text('background');

// integral annotations
function integral(xc, yBottom, len, fs, parts, box) {
  if (box) {
    svg.append('rect').attr('x', box[0]).attr('y', box[1]).attr('width', box[2]).attr('height', box[3])
      .attr('fill', '#fff').attr('opacity', 0.55);
  }
  const t = svg.append('text').attr('transform', `translate(${xc + 0.33 * fs},${yBottom}) rotate(-90)`)
    .attr('font-family', SERIF).attr('font-weight', 700).attr('font-size', fs).attr('fill', '#111')
    .attr('textLength', len).attr('lengthAdjust', 'spacingAndGlyphs');
  let shift = 0;
  parts.forEach(p => {
    const [s, kind] = Array.isArray(p) ? p : [p, ''];
    const target = kind === 'sub' ? 0.25 * fs : 0;
    const sp = t.append('tspan').attr('dy', target - shift).text(s);
    if (kind) sp.attr('font-size', fs * 0.7);
    shift = target;
  });
}
integral(1964, 1281, 92, 34, ['\u222B Ndt']);
integral(1979, 1524, 166, 31, ['\u222B [NOx] dt'], [1953, 1350, 56, 182]);
integral(1981, 1737, 162, 31, ['\u222B [CO', ['2', 'sub'], '] dt'], [1955, 1570, 56, 172]);

// ===== TEXT BLOCKS =====
function bigLine(x, y, len, fs, parts, o = {}) {
  const t = svg.append('text').attr('x', x).attr('y', y).attr('font-family', BIG).attr('font-size', fs)
    .attr('textLength', len).attr('lengthAdjust', 'spacingAndGlyphs').attr('fill', o.fill || '#000')
    .attr('font-weight', o.weight || 400);
  parts.forEach(p => {
    const sp = t.append('tspan').text(p.s);
    if (p.fill) sp.attr('fill', p.fill);
    if (p.weight) sp.attr('font-weight', p.weight);
    if (p.italic) sp.attr('font-family', SERIF).attr('font-style', 'italic');
    if (p.dy) sp.attr('dy', p.dy);
    if (p.fs) sp.attr('font-size', p.fs);
  });
}
bigLine(1070, 94, 318, 67, [{ s: 'Near field:' }], { fill: C.text, weight: 700 });
bigLine(1071, 183, 470, 67, [{ s: '\u223C100 m behind' }], { fill: C.text, weight: 700 });
bigLine(1068, 268, 326, 67, [{ s: 'the engine' }], { fill: C.text, weight: 700 });
bigLine(1345, 718, 265, 67, [{ s: 'Far field:' }], { fill: C.text, weight: 700 });
bigLine(1345, 807, 298, 67, [{ s: '20 -40 km' }], { fill: C.text, weight: 700 });
bigLine(1345, 897, 252, 67, [{ s: 'distance' }], { fill: C.text, weight: 700 });

bigLine(9, 1312, 1176, 92, [
  { s: 'Emission index', fill: C.text, weight: 700 },
  { s: ' for species ' },
  { s: 'X', italic: true }
]);
bigLine(9, 1446, 796, 92, [
  { s: 'based on tracer ' },
  { s: 'Tr', italic: true },
  { s: ':' }
]);
bigLine(9, 1845, 1234, 92, [
  { s: 'Tracers used are CO' },
  { s: '2', dy: 24, fs: 62 },
  { s: ' and  NO', dy: -24 },
  { s: 'y', dy: 24, fs: 62 }
]);

// formula
function mathPiece(x, y, s, len, fs, italic) {
  svg.append('text').attr('x', x).attr('y', y).attr('font-family', SERIF).attr('font-size', fs)
    .attr('font-style', italic ? 'italic' : 'normal').attr('fill', '#000')
    .attr('textLength', len).attr('lengthAdjust', 'spacingAndGlyphs').text(s);
}
mathPiece(513, 1617, 'EI', 86, 80, true);
mathPiece(603, 1635, 'X', 36, 52, true);
mathPiece(663, 1617, '=', 56, 80, false);
svg.append('line').attr('x1', 745).attr('x2', 875).attr('y1', 1592).attr('y2', 1592).attr('stroke', '#000').attr('stroke-width', 4);
svg.append('line').attr('x1', 893).attr('x2', 1152).attr('y1', 1592).attr('y2', 1592).attr('stroke', '#000').attr('stroke-width', 4);
mathPiece(759, 1552, '\u0394', 50, 80, false);
mathPiece(809, 1552, 'X', 48, 80, true);
mathPiece(748, 1674, '\u0394Tr', 118, 80, false);
mathPiece(946, 1552, 'M', 72, 80, true);
mathPiece(1016, 1570, 'air', 78, 52, false);
mathPiece(893, 1674, 'M', 66, 80, true);
mathPiece(960, 1692, 'Tr', 64, 52, false);
mathPiece(1027, 1674, '\u03C1', 42, 80, true);
mathPiece(1071, 1692, 'air', 76, 52, false);
mathPiece(1165, 1617, 'EI', 80, 80, true);
mathPiece(1248, 1635, 'Tr', 62, 52, false);
</script>
</body>
</html>
